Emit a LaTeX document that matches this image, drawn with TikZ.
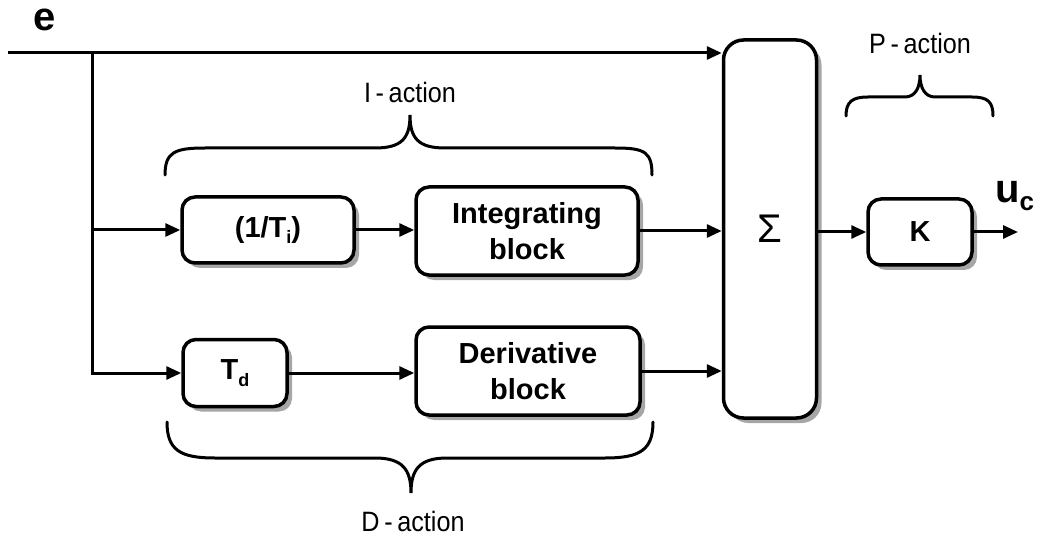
\documentclass[tikz,border=0pt]{standalone}
\usepackage{fontspec}
\setmainfont{Liberation Sans}
\newfontfamily\narrowfont[FakeStretch=0.9]{Liberation Sans}
\usetikzlibrary{arrows.meta,shadows}

\begin{document}
\begin{tikzpicture}[x=1pt,y=-1pt,
  blockbox/.style={draw, line width=3.5pt, rounded corners=13pt, fill=white,
    align=center, inner sep=0pt,
    font=\bfseries\fontsize{29}{36}\selectfont,
    drop shadow={shadow xshift=5pt, shadow yshift=-5pt, fill=black, opacity=0.35}},
  wire/.style={line width=3pt, -{Triangle[length=15pt,width=13pt]}},
  plainwire/.style={line width=3pt},
  bracepath/.style={line width=3pt, line cap=round},
  actionlabel/.style={font=\narrowfont\fontsize{28}{30}\selectfont, inner sep=0pt}]

\useasboundingbox (0,0) rectangle (1038,537);

% blocks
\node[blockbox, minimum width=172pt, minimum height=66pt] (inv) at (268,230) {(1/T\raisebox{-0.22em}{\fontsize{18}{18}\selectfont i})};
\node[blockbox, minimum width=222pt, minimum height=88pt] (integ) at (527,231) {Integrating\\block};
\node[blockbox, minimum width=104pt, minimum height=67pt] (td) at (235,373) {T\raisebox{-0.22em}{\fontsize{18}{18}\selectfont d}};
\node[blockbox, minimum width=224pt, minimum height=88pt] (deriv) at (528,371) {Derivative\\block};
\node[blockbox, rounded corners=20pt, minimum width=93pt, minimum height=378pt] (sum) at (770,229) {};
\node[font=\fontsize{40}{40}\selectfont, inner sep=0pt] (sigma) at (770,229) {Σ};
\node[blockbox, minimum width=104pt, minimum height=66pt] (k) at (920,232) {K};

% signal labels
\node[font=\bfseries\fontsize{40}{40}\selectfont, inner sep=0pt] (elabel) at (45,20) {e};
\node[font=\bfseries\fontsize{40}{40}\selectfont, inner sep=0pt, anchor=base west] (uc) at (995,203) {u\raisebox{-0.2em}{\fontsize{26}{26}\selectfont c}};

% input line and branches
\coordinate (ein) at (8,53);
\coordinate (split) at (92,53);
\coordinate (splitI) at (92,230);
\coordinate (splitD) at (92,373);
\coordinate (out) at (1018,232);

\draw[wire] (ein) -- (sum.west |- ein);
\draw[plainwire, line cap=rect] (split) -- (splitD);
\draw[wire] (splitI) -- (inv.west);
\draw[wire] (splitD) -- (td.west);
\draw[wire] (inv.east) -- (integ.west |- inv.east);
\draw[wire] (td.east) -- (deriv.west |- td.east);
\draw[wire] (integ.east) -- (sum.west |- integ.east);
\draw[wire] (deriv.east) -- (sum.west |- deriv.east);
\draw[wire] (sum.east |- k.west) -- (k.west);
\draw[wire] (k.east) -- (out);

% I-action brace
\draw[bracepath] (165,175) .. controls (165,152) and (175,148) .. (205,148)
  -- (375,148) .. controls (402,148) and (410,138) .. (410,115)
  .. controls (410,138) and (418,148) .. (445,148)
  -- (615,148) .. controls (645,148) and (652,152) .. (652,175);
\node[actionlabel] (ilabel) at (410,92) {I\,-\,action};

% D-action brace
\draw[bracepath] (167,422) .. controls (167,450) and (180,458) .. (215,458)
  -- (375,458) .. controls (403,458) and (411,470) .. (411,493)
  .. controls (411,470) and (419,458) .. (447,458)
  -- (605,458) .. controls (640,458) and (653,450) .. (653,422);
\node[actionlabel] (dlabel) at (413,521) {D\,-\,action};

% P-action brace
\draw[bracepath] (846,116) .. controls (846,102) and (852,97) .. (868,97)
  -- (905,97) .. controls (915,97) and (920,88) .. (920,75)
  .. controls (920,88) and (925,97) .. (935,97)
  -- (972,97) .. controls (988,97) and (993,102) .. (993,116);
\node[actionlabel] (plabel) at (920,43) {P\,-\,action};

\end{tikzpicture}
\end{document}
